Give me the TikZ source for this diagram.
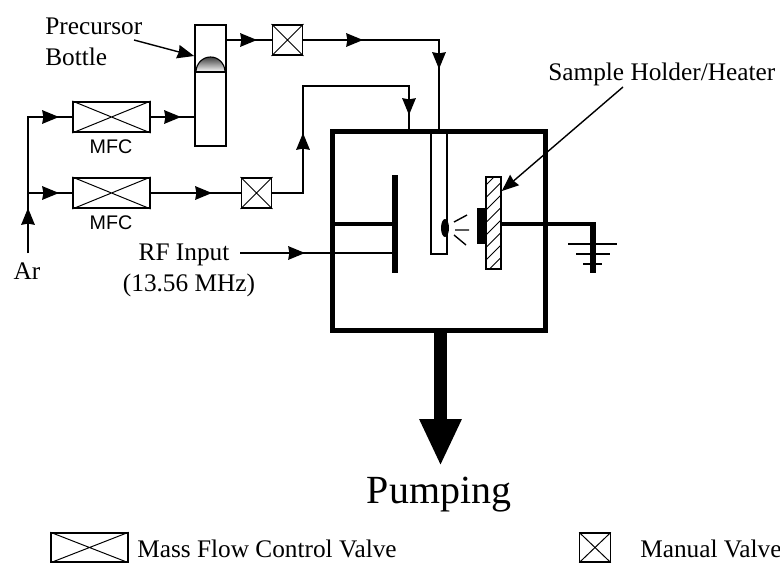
\documentclass[tikz,border=0pt]{standalone}
\usepackage{fontspec}
\setmainfont{Liberation Serif}
\setsansfont{Liberation Sans}
\usetikzlibrary{positioning,arrows.meta,calc,shapes.geometric}
\tikzset{
  >=Stealth,
  every node/.style={font=\fontsize{18}{20}\selectfont},
  % --- nodes
  mfcbox/.style   = {draw, line width=1.1pt, minimum width=19.2mm, minimum height=7.6mm, inner sep=0pt},
  valvebox/.style = {draw, line width=1.1pt, minimum width=7.6mm, minimum height=7.6mm, inner sep=0pt},
  lbl/.style      = {inner sep=0pt, anchor=base},
  mfclbl/.style   = {inner sep=0pt, anchor=base, font=\sffamily\fontsize{14}{16}\selectfont},
  % --- edges
  pipe/.style     = {line width=1pt},
  tip/.style      = {-{Stealth[inset=0.3mm,length=4.2mm,width=3.4mm]}, line width=1pt},
  heavy/.style    = {line width=3pt},
}
\newcommand{\crossbox}[1]{%
  \draw[line width=0.7pt] (#1.north west) -- (#1.south east) (#1.south west) -- (#1.north east);}
\begin{document}
\begin{tikzpicture}[x=0.25mm,y=-0.25mm]
  \useasboundingbox (0,0) rectangle (780,562);
  % bottle and gas panel
  \node[draw, line width=1.1pt, minimum width=7.8mm, minimum height=30.3mm, inner sep=0pt] (bottle) at (210.5,85.5) {};
  \shade[top color=black!75, bottom color=white] (196,72) arc[start angle=180, end angle=360, x radius=14.5, y radius=15] -- cycle;
  \draw[line width=0.8pt] (196,72) arc[start angle=180, end angle=360, x radius=14.5, y radius=15];
  \draw[line width=1.1pt] (195,72) -- (226,72);
  \node[mfcbox] (mfctop) at (111.5,117) {};
  \node[mfcbox] (mfcbot) at (111.5,193) {};
  \node[valvebox] (valvetop) at (287.5,40) {};
  \node[valvebox] (valvebot) at (256.5,193) {};
  \crossbox{mfctop} \crossbox{mfcbot} \crossbox{valvetop} \crossbox{valvebot}
  \node[mfclbl] (mfctoplbl) at (111,153) {MFC};
  \node[mfclbl] (mfcbotlbl) at (111,229) {MFC};
  \node[lbl] (ar) at (27,279) {Ar};
  \node[lbl, anchor=base west] (prec) at (45,34) {Precursor};
  \node[lbl, anchor=base west] (bott) at (45,65) {Bottle};
  \node[lbl] (rf) at (184,260) {RF Input};
  \node[lbl] (rfmhz) at (189,291) {(13.56 MHz)};
  \node[lbl, anchor=base west] (shh) at (548,80) {Sample Holder/Heater};
  % chamber
  \node[draw, line width=3.3pt, minimum width=53.2mm, minimum height=49.7mm, inner sep=0pt] (chamber) at (439,231) {};
  \node[draw, line width=1pt, minimum width=4mm, minimum height=30.5mm, inner sep=0pt] (tube) at (439,193) {};
  \node[fill=black, inner sep=0pt, minimum width=1.6mm, minimum height=24.5mm] (plate) at (395,224) {};
  \node[draw, line width=1pt, minimum width=3.8mm, minimum height=23mm, inner sep=0pt] (holder) at (493.5,223) {};
  \begin{scope}
    \clip (holder.south west) rectangle (holder.north east);
    \foreach \y in {185,197.5,...,285} {
      \draw[line width=0.7pt] (486,\y) -- ++(15,-15);
    }
  \end{scope}
  \node[fill=black, inner sep=0pt, minimum width=2mm, minimum height=9mm, anchor=east] (sample) at (holder.west |- 0,226) {};
  \node[ellipse, fill=black, inner sep=0pt, minimum width=2mm, minimum height=4.5mm] (spot) at (445,228) {};
  \draw[line width=1pt] (454,222) -- (467,215) (455,230) -- (469,230) (454,235) -- (466,245);
  % lines
  \coordinate (arfoot) at (28,253);
  \coordinate (artee) at (28,193);
  \coordinate (artop) at (28,117);
  \draw[pipe] (arfoot) -- (artop) -- (mfctop.west);
  \draw[pipe] (artee) -- (mfcbot.west);
  \draw[tip] (arfoot) -- (28,208);
  \draw[tip] (artop) -- (59,117);
  \draw[tip] (artee) -- (59,193);
  \draw[pipe] (mfctop.east) -- (mfctop.east -| bottle.west);
  \draw[tip] (mfctop.east) -- (181,117);
  \draw[pipe] (mfcbot.east) -- (valvebot.west);
  \draw[tip] (mfcbot.east) -- (212,193);
  \draw[pipe] (bottle.east |- valvetop.west) -- (valvetop.west);
  \draw[tip] (bottle.east |- valvetop.west) -- (257,40);
  \draw[pipe] (valvetop.east) -| (tube.north);
  \draw[tip] (valvetop.east) -- (363,40);
  \draw[tip] (439,40) -- (439,69);
  \coordinate (gastop) at (409,86);
  \draw[pipe] (valvebot.east) -- (303,193) |- (gastop) -- (409,130);
  \draw[tip] (303,193) -- (303,133);
  \draw[tip] (409,86) -- (409,115);
  \coordinate (rfs) at (240,253);
  \draw[pipe] (rfs) -- (plate.center |- rfs);
  \draw[tip] (rfs) -- (305,253);
  \draw[tip] (134,40) -- (bottle.west |- 0,56);
  \draw[tip] (623,87) -- (holder.east |- 0,191);
  % electrodes
  \draw[heavy] (chamber.west |- plate.center) -- (plate.center);
  \coordinate (gndcor) at (593,224);
  \coordinate (gndend) at (593,273);
  \draw[heavy] (holder.east |- gndcor) -- (gndcor);
  \draw[line width=4.2pt] (593,222) -- (gndend);
  \draw[line width=1.5pt] (568,244) -- (617,244) (576,254) -- (610,254) (583,264) -- (602,264);
  % pumping
  \coordinate (pumptip) at (440.5,466);
  \draw[-{Triangle[length=11.75mm,width=9.75mm]}, line width=3.25mm] (chamber.south -| pumptip) -- (pumptip);
  \node[lbl, font=\fontsize{28.4}{31}\selectfont] (pump) at (439,503) {Pumping};
  % legend
  \node[mfcbox, minimum width=19.2mm, minimum height=7.25mm] (keymfc) at (89.5,547.5) {};
  \crossbox{keymfc}
  \node[lbl, anchor=base west] (keymfctxt) at (137,557) {Mass Flow Control Valve};
  \node[valvebox, line width=0.8pt, minimum width=7.6mm, minimum height=7.25mm] (keyvalve) at (595,547.5) {};
  \crossbox{keyvalve}
  \node[lbl, anchor=base west] (keyvalvetxt) at (640,557) {Manual Valve};
\end{tikzpicture}
\end{document}
